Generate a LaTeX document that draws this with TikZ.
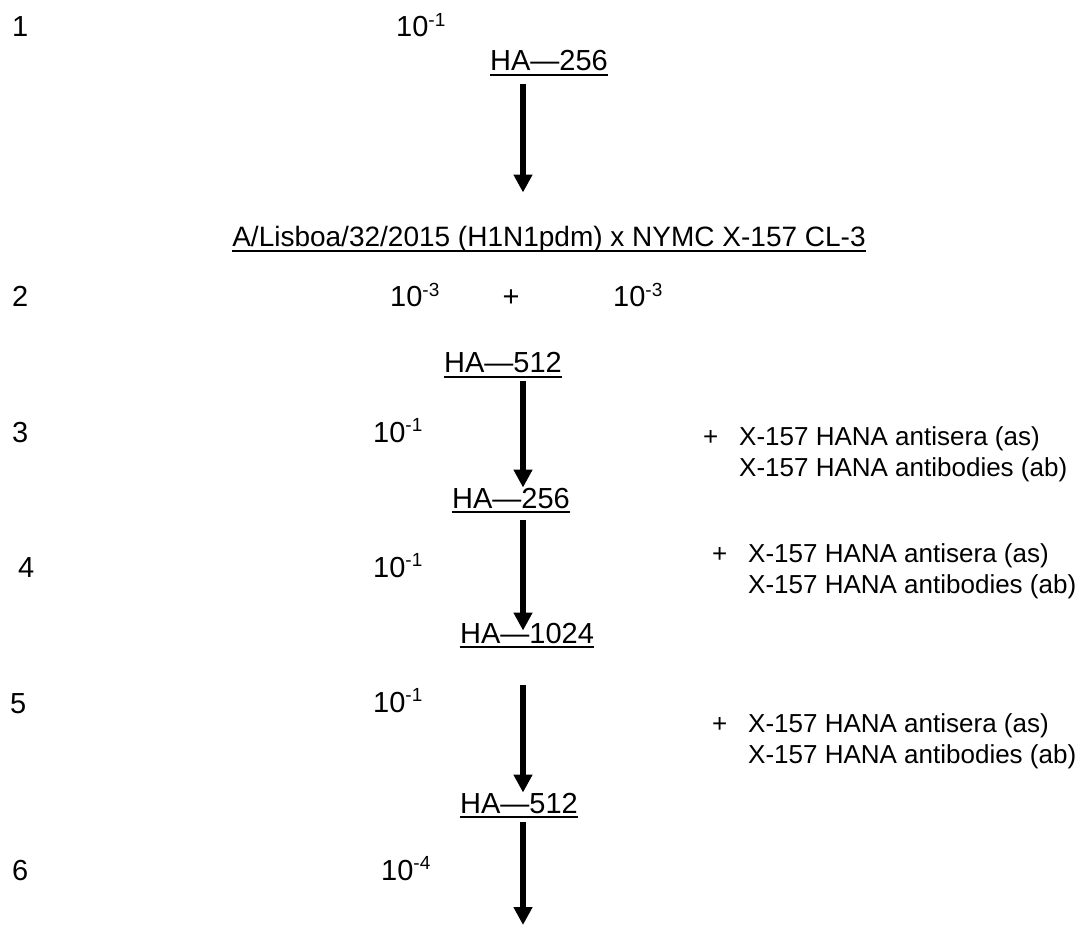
\documentclass[tikz,border=0pt]{standalone}
\usepackage{fontspec}
\setmainfont{Liberation Sans}
\usetikzlibrary{arrows.meta}

\newcommand{\dil}[1]{10\raisebox{0.36em}{\fontsize{19}{19}\selectfont #1}}

\begin{document}
\begin{tikzpicture}[x=1pt,y=-1pt,
  txt/.style={anchor=base west, inner sep=0pt, font=\fontsize{29}{34}\selectfont},
  note/.style={anchor=base west, inner sep=0pt, font=\fontsize{26}{31}\selectfont},
  uline/.style={line width=2.4pt},
  flow/.style={line width=6.7pt, -{Triangle[width=18pt,length=18pt]}}]

\useasboundingbox (0,0) rectangle (1090,925);

% Passage numbers
\foreach \i/\x/\y in {1/12/37, 2/12/307, 3/12/442, 4/18/577, 5/10/713, 6/12/880}
  \node[txt] (n\i) at (\x,\y) {\i};

% Dilutions
\node[txt] (f1) at (396,37) {\dil{-1}};
\node[txt] (f2a) at (390,307) {\dil{-3}};
\node[txt, anchor=base] (plus) at (511,307) {+};
\node[txt] (f2b) at (613,307) {\dil{-3}};
\node[txt] (f3) at (373,442) {\dil{-1}};
\node[txt] (f4) at (373,577) {\dil{-1}};
\node[txt] (f5) at (373,712) {\dil{-1}};
\node[txt] (f6) at (381,880) {\dil{-4}};

% HA titres and reassortant
\node[txt] (ha1) at (490,71) {HA—256};
\node[txt, anchor=base, font=\fontsize{28}{33}\selectfont] (virus) at (549,247)
  {A/Lisboa/32/2015 (H1N1pdm) x NYMC X-157 CL-3};
\node[txt] (ha2) at (444,373) {HA—512};
\node[txt] (ha3) at (452,508) {HA—256};
\node[txt] (ha4) at (460,643) {HA—1024};
\node[txt] (ha5) at (460,813) {HA—512};

\foreach \n in {ha1,ha2,ha3,ha4,ha5,virus}
  \draw[uline] ([yshift=-4pt]\n.base west) -- ([yshift=-4pt]\n.base east);

% Antisera added
\foreach \k/\x/\y in {3/703/445, 4/712/562, 5/712/732} {
  \node[note] (p\k) at (\x,\y) {+};
  \node[note] (as\k) at (\x+36,\y) {X-157 HANA antisera (as)};
  \node[note] (ab\k) at (\x+36,\y+31.5) {X-157 HANA antibodies (ab)};
}

% Arrows
\coordinate (ax) at (523,0);
\coordinate (bot) at (523,925);
\draw[flow, shorten <=13pt, shorten >=34pt] (ha1.south -| ax) -- (virus.north -| ax);
\draw[flow, shorten <=8pt] (ha2.south -| ax) -- (ha3.north -| ax);
\draw[flow, shorten <=12pt, shorten >=-8pt] (ha3.south -| ax) -- (ha4.north -| ax);
\draw[flow, shorten <=42pt] (ha4.south -| ax) -- (ha5.north -| ax);
\draw[flow, shorten <=9pt] (ha5.south -| ax) -- (bot);

\end{tikzpicture}
\end{document}
